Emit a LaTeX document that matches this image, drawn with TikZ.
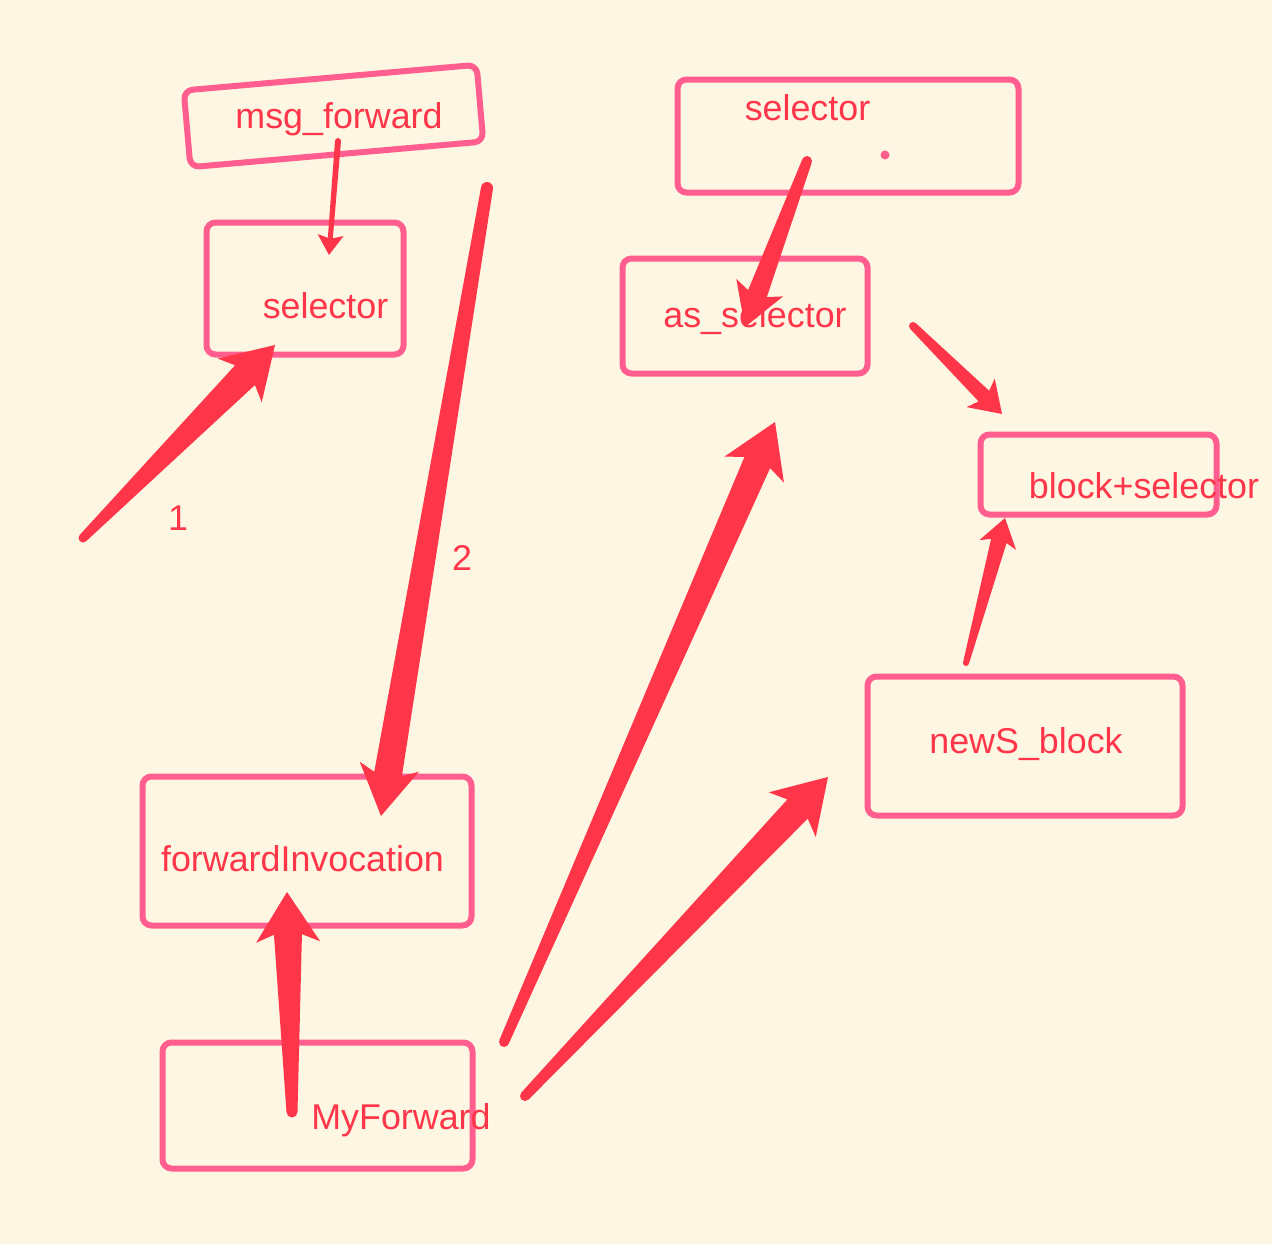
\documentclass[tikz,border=0pt]{standalone}
\usepackage{fontspec}
\setmainfont{Liberation Sans}
\usepackage{tikz}
\usetikzlibrary{calc}
\definecolor{bgcream}{RGB}{253,246,227}
\definecolor{boxpink}{RGB}{255,94,142}
\definecolor{arrowred}{RGB}{255,54,74}

\newcommand{\px}{0.02cm}
% tapered arrow: #1 tail, #2 tip, then tail width, shaft width, head width, head length (px)
\newcommand{\fatarrow}[6]{%
  \coordinate (hb) at ($(#2)!#6*\px!(#1)$);
  \coordinate (nb) at ($(#2)!0.85*#6*\px!(#1)$);
  \fill[arrowred] ($(#1)!0.5*#3*\px!90:(#2)$) -- ($(nb)!0.5*#4*\px!90:(#2)$) -- ($(hb)!0.5*#5*\px!90:(#2)$) -- (#2)
    -- ($(hb)!0.5*#5*\px!-90:(#2)$) -- ($(nb)!0.5*#4*\px!-90:(#2)$) -- ($(#1)!0.5*#3*\px!-90:(#2)$) -- cycle;
  \fill[arrowred] (#1) circle[radius=0.5*#3*\px];
}

\begin{document}
\begin{tikzpicture}[x=0.02cm,y=-0.02cm,line join=round,
    box/.style={draw=boxpink,line width=6*\px,rounded corners=9*\px,inner sep=0pt},
    lbl/.style={text=arrowred,anchor=base,inner sep=0pt,font=\fontsize{20.4}{24}\selectfont}]

    \fill[bgcream] (0,0) rectangle (1272,1244);
    \useasboundingbox (0,0) rectangle (1272,1244);

    % boxes
    \node[box,rotate=5,minimum width=294*\px,minimum height=77*\px] (msgBox) at (333.5,116) {};
    \node[box,minimum width=197*\px,minimum height=132*\px] (selLeft) at (305,288.5) {};
    \node[box,minimum width=341*\px,minimum height=113*\px] (selTop) at (848,136) {};
    \node[box,minimum width=245*\px,minimum height=115*\px] (asSel) at (745,316) {};
    \node[box,minimum width=236*\px,minimum height=80*\px] (blkSel) at (1098.5,474.5) {};
    \node[box,minimum width=315*\px,minimum height=139*\px] (newsBlk) at (1025,746) {};
    \node[box,minimum width=329*\px,minimum height=149*\px] (fwdInv) at (307,851) {};
    \node[box,minimum width=310*\px,minimum height=126*\px] (myFwd) at (317.5,1105.5) {};
    \fill[boxpink] (885,155) circle[radius=4.5*\px];

    % texts
    \node[lbl] (msgTxt) at (339,128) {msg\_forward};
    \node[lbl] (selLeftTxt) at (325.5,318) {selector};
    \node[lbl] (selTopTxt) at (807.5,120) {selector};
    \node[lbl] (asSelTxt) at (755,327) {as\_selector};
    \node[lbl] (blkSelTxt) at (1144,498) {block+selector};
    \node[lbl] (newsTxt) at (1026,753) {newS\_block};
    \node[lbl] (fwdTxt) at (302.5,871) {forwardInvocation};
    \node[lbl] (myFwdTxt) at (401,1129) {MyForward};
    \node[lbl] (one) at (178,530) {1};
    \node[lbl] (two) at (462,570) {2};

    % arrow ends
    \coordinate (a1s) at (83,538);    \coordinate (a1e) at (275,345);
    \coordinate (a2s) at (338,141);   \coordinate (a2e) at (329,255);
    \coordinate (a3s) at (487,188);   \coordinate (a3e) at (381,816);
    \coordinate (a4s) at (292,1112);  \coordinate (a4e) at (287,892);
    \coordinate (a5s) at (807,161);   \coordinate (a5e) at (745,327);
    \coordinate (a6s) at (913,326);   \coordinate (a6e) at (1002,414);
    \coordinate (a7s) at (966,663);   \coordinate (a7e) at (1005,518);
    \coordinate (a8s) at (504,1042);  \coordinate (a8e) at (775,422);
    \coordinate (a9s) at (525,1096);  \coordinate (a9e) at (828,777);

    \fatarrow{a1s}{a1e}{9}{28}{62}{50}
    \fatarrow{a2s}{a2e}{6}{5}{26}{20}
    \fatarrow{a3s}{a3e}{12}{28}{60}{50}
    \fatarrow{a4s}{a4e}{11}{28}{64}{50}
    \fatarrow{a5s}{a5e}{10}{20}{50}{42}
    \fatarrow{a6s}{a6e}{8}{15}{40}{30}
    \fatarrow{a7s}{a7e}{6}{16}{38}{28}
    \fatarrow{a8s}{a8e}{10}{28}{65}{52}
    \fatarrow{a9s}{a9e}{10}{28}{65}{52}
\end{tikzpicture}
\end{document}
